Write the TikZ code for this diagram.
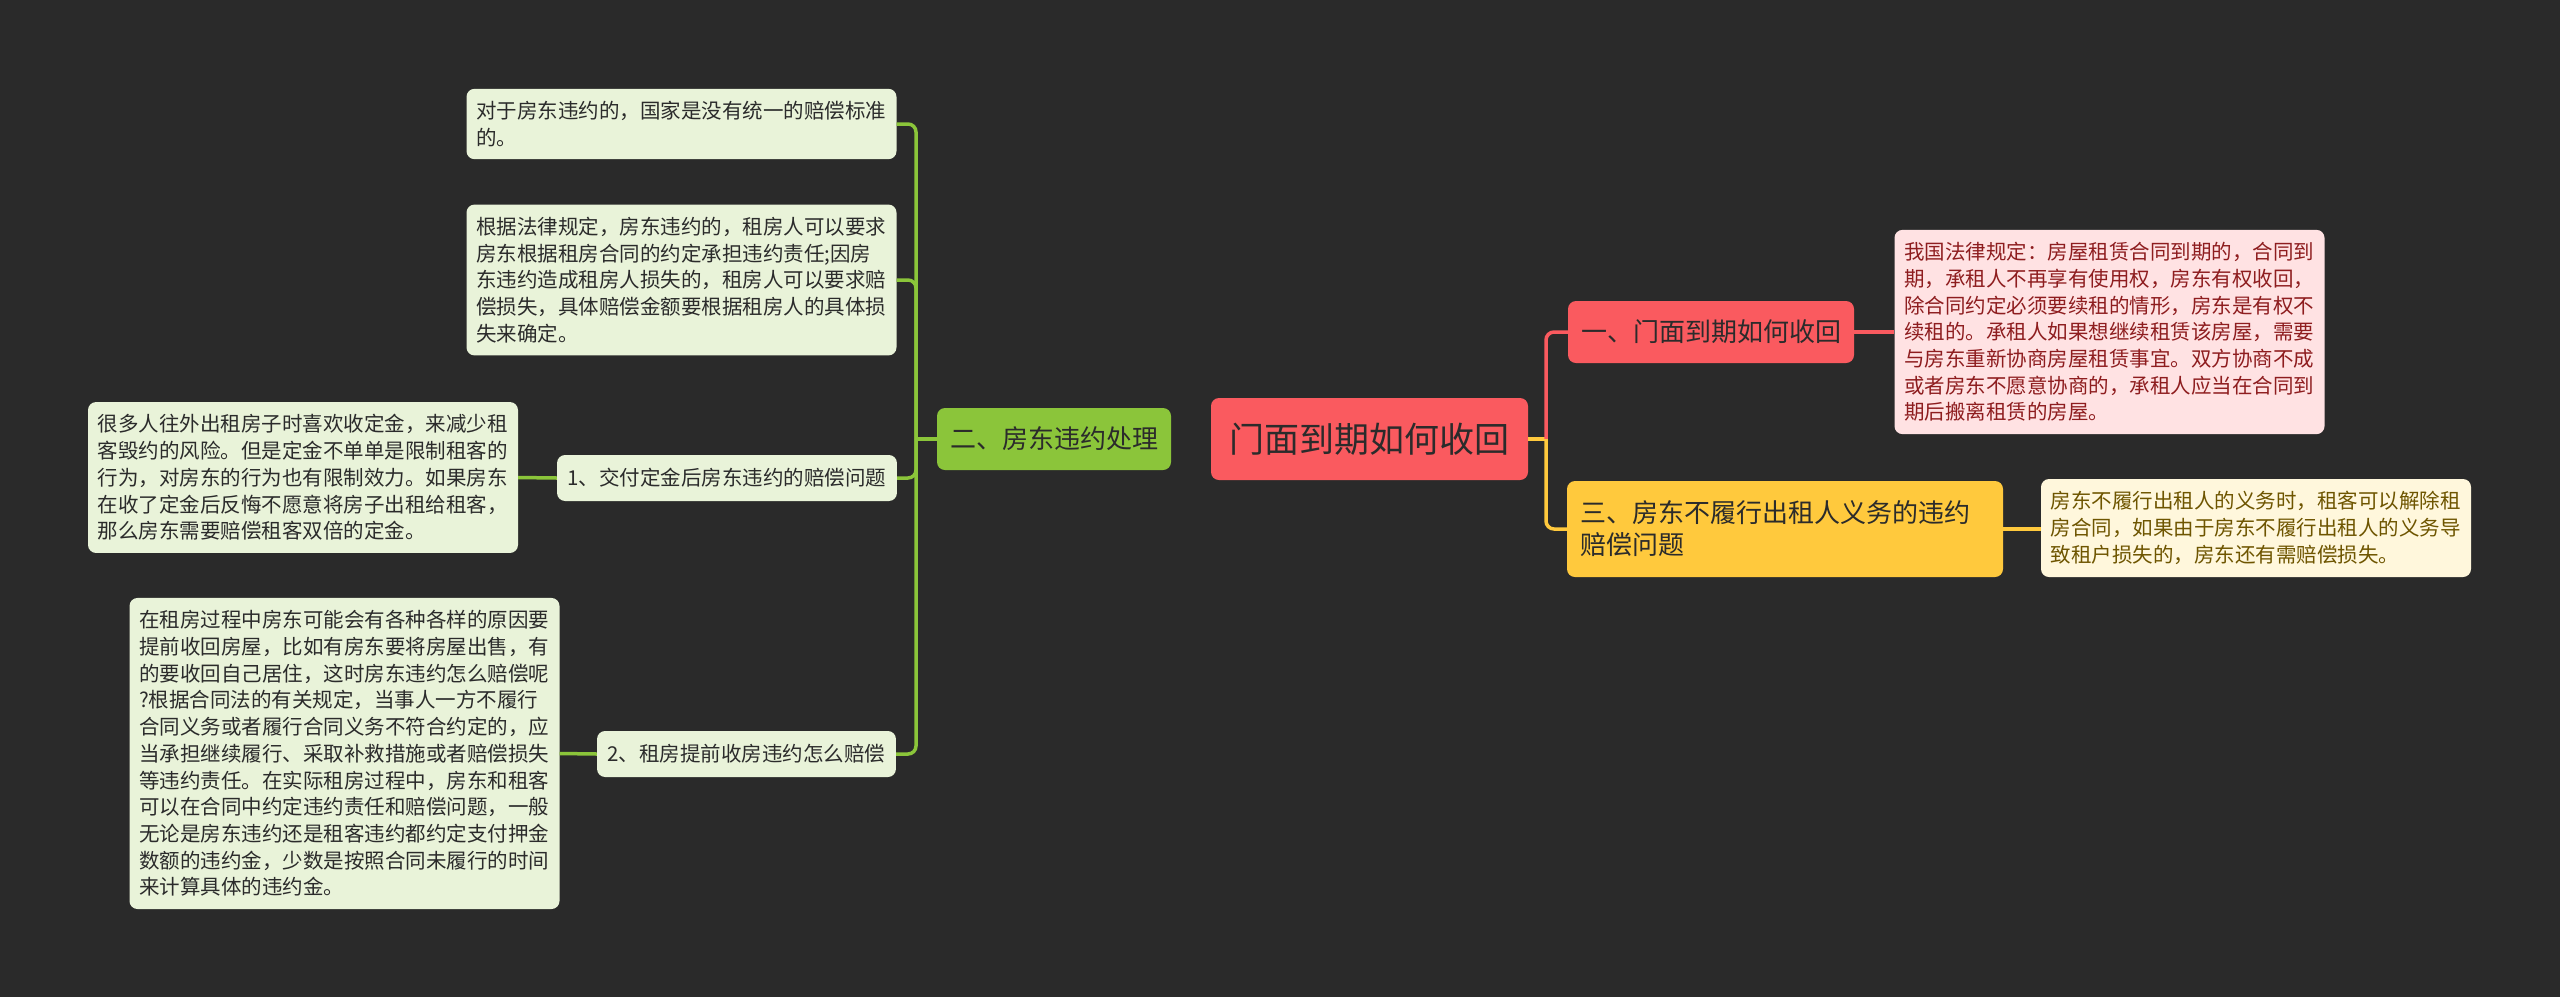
\documentclass[tikz,border=0pt]{standalone}
\usepackage{fontspec}
\setmainfont{Noto Sans CJK SC}
\definecolor{bgdark}{HTML}{2A2A2A}
\definecolor{rootred}{HTML}{FA5A5F}
\definecolor{branchgreen}{HTML}{8BC53A}
\definecolor{branchyellow}{HTML}{FFC93D}
\definecolor{leafgreen}{HTML}{E9F3D9}
\definecolor{leafpink}{HTML}{FFE2E3}
\definecolor{leafcream}{HTML}{FFF7DC}
\definecolor{darktext}{HTML}{2B2B2B}
\definecolor{pinktext}{HTML}{8E1D1F}
\definecolor{creamtext}{HTML}{6E5500}
\tikzset{rootbox/.style={fill=rootred,rounded corners=8pt,minimum width=317pt,minimum height=82pt,text=darktext,font=\fontsize{35pt}{42pt}\selectfont}}
\tikzset{mainbox/.style={rounded corners=8pt,inner xsep=13pt,minimum height=62pt,text=darktext,font=\fontsize{26pt}{32pt}\selectfont}}
\tikzset{subbox/.style={fill=leafgreen,rounded corners=8pt,inner xsep=10.5pt,minimum height=46pt,text=darktext,font=\fontsize{20.5pt}{26.7pt}\selectfont}}
\tikzset{leafbox/.style={fill=leafgreen,rounded corners=8pt,text width=411pt,inner xsep=9.5pt,inner ysep=12.5pt,align=left,text=darktext,font=\fontsize{20.5pt}{26.7pt}\selectfont}}
\tikzset{gline/.style={draw=branchgreen,line width=3.5pt,rounded corners=8pt}}
\tikzset{rline/.style={draw=rootred,line width=3.5pt,rounded corners=8pt}}
\tikzset{yline/.style={draw=branchyellow,line width=3.5pt,rounded corners=8pt}}

\begin{document}
\begin{tikzpicture}[x=1pt,y=-1pt]
    \fill[bgdark] (0,0) rectangle (2560,997);
    \useasboundingbox (0,0) rectangle (2560,997);

    % centre
    \node[rootbox] (root) at (1369.5,439) {门面到期如何收回};

    % left branch
    \node[mainbox,fill=branchgreen] (two) at (1054,439) {二、房东违约处理};
    \node[leafbox] (leafa) at (681.5,124) {对于房东违约的，国家是没有统一的赔偿标准\\的。};
    \node[leafbox] (leafb) at (681.5,280) {根据法律规定，房东违约的，租房人可以要求\\房东根据租房合同的约定承担违约责任;因房\\东违约造成租房人损失的，租房人可以要求赔\\偿损失，具体赔偿金额要根据租房人的具体损\\失来确定。};
    \node[subbox] (suba) at (727,478) {1、交付定金后房东违约的赔偿问题};
    \node[leafbox] (leafc) at (303,477.5) {很多人往外出租房子时喜欢收定金，来减少租\\客毁约的风险。但是定金不单单是限制租客的\\行为，对房东的行为也有限制效力。如果房东\\在收了定金后反悔不愿意将房子出租给租客，\\那么房东需要赔偿租客双倍的定金。};
    \node[subbox] (subb) at (746.5,754) {2、租房提前收房违约怎么赔偿};
    \node[leafbox] (leafd) at (344.5,753.5) {在租房过程中房东可能会有各种各样的原因要\\提前收回房屋，比如有房东要将房屋出售，有\\的要收回自己居住，这时房东违约怎么赔偿呢\\?根据合同法的有关规定，当事人一方不履行\\合同义务或者履行合同义务不符合约定的，应\\当承担继续履行、采取补救措施或者赔偿损失\\等违约责任。在实际租房过程中，房东和租客\\可以在合同中约定违约责任和赔偿问题，一般\\无论是房东违约还是租客违约都约定支付押金\\数额的违约金，少数是按照合同未履行的时间\\来计算具体的违约金。};

    \coordinate (gj) at (916,439);
    \draw[gline] (two.west) -- (gj);
    \foreach \n in {leafa,leafb,suba,subb}{
      \draw[gline] (gj) |- (\n.east);
    }
    \draw[gline] (suba.west) -- (leafc.east);
    \draw[gline] (subb.west) -- (leafd.east);

    % right branches
    \node[mainbox,fill=rootred] (one) at (1711,332) {一、门面到期如何收回};
    \node[leafbox,fill=leafpink,text=pinktext] (pinkleaf) at (2109.5,332) {我国法律规定：房屋租赁合同到期的，合同到\\期，承租人不再享有使用权，房东有权收回，\\除合同约定必须要续租的情形，房东是有权不\\续租的。承租人如果想继续租赁该房屋，需要\\与房东重新协商房屋租赁事宜。双方协商不成\\或者房东不愿意协商的，承租人应当在合同到\\期后搬离租赁的房屋。};
    \node[mainbox,fill=branchyellow,text width=410pt,align=left,minimum height=96pt] (three) at (1785,529) {三、房东不履行出租人义务的违约\\赔偿问题};
    \node[leafbox,fill=leafcream,text=creamtext] (creamleaf) at (2256,528) {房东不履行出租人的义务时，租客可以解除租\\房合同，如果由于房东不履行出租人的义务导\\致租户损失的，房东还有需赔偿损失。};

    \coordinate (rj) at (1546,439);
    \draw[yline] (root.east) -- (rj);
    \draw[rline] (rj) |- (one.west);
    \draw[yline] (rj) |- (three.west);
    \draw[rline] (one.east) -- (pinkleaf.west);
    \draw[yline] (three.east) -- (creamleaf.west |- three.east);

\end{tikzpicture}
\end{document}
